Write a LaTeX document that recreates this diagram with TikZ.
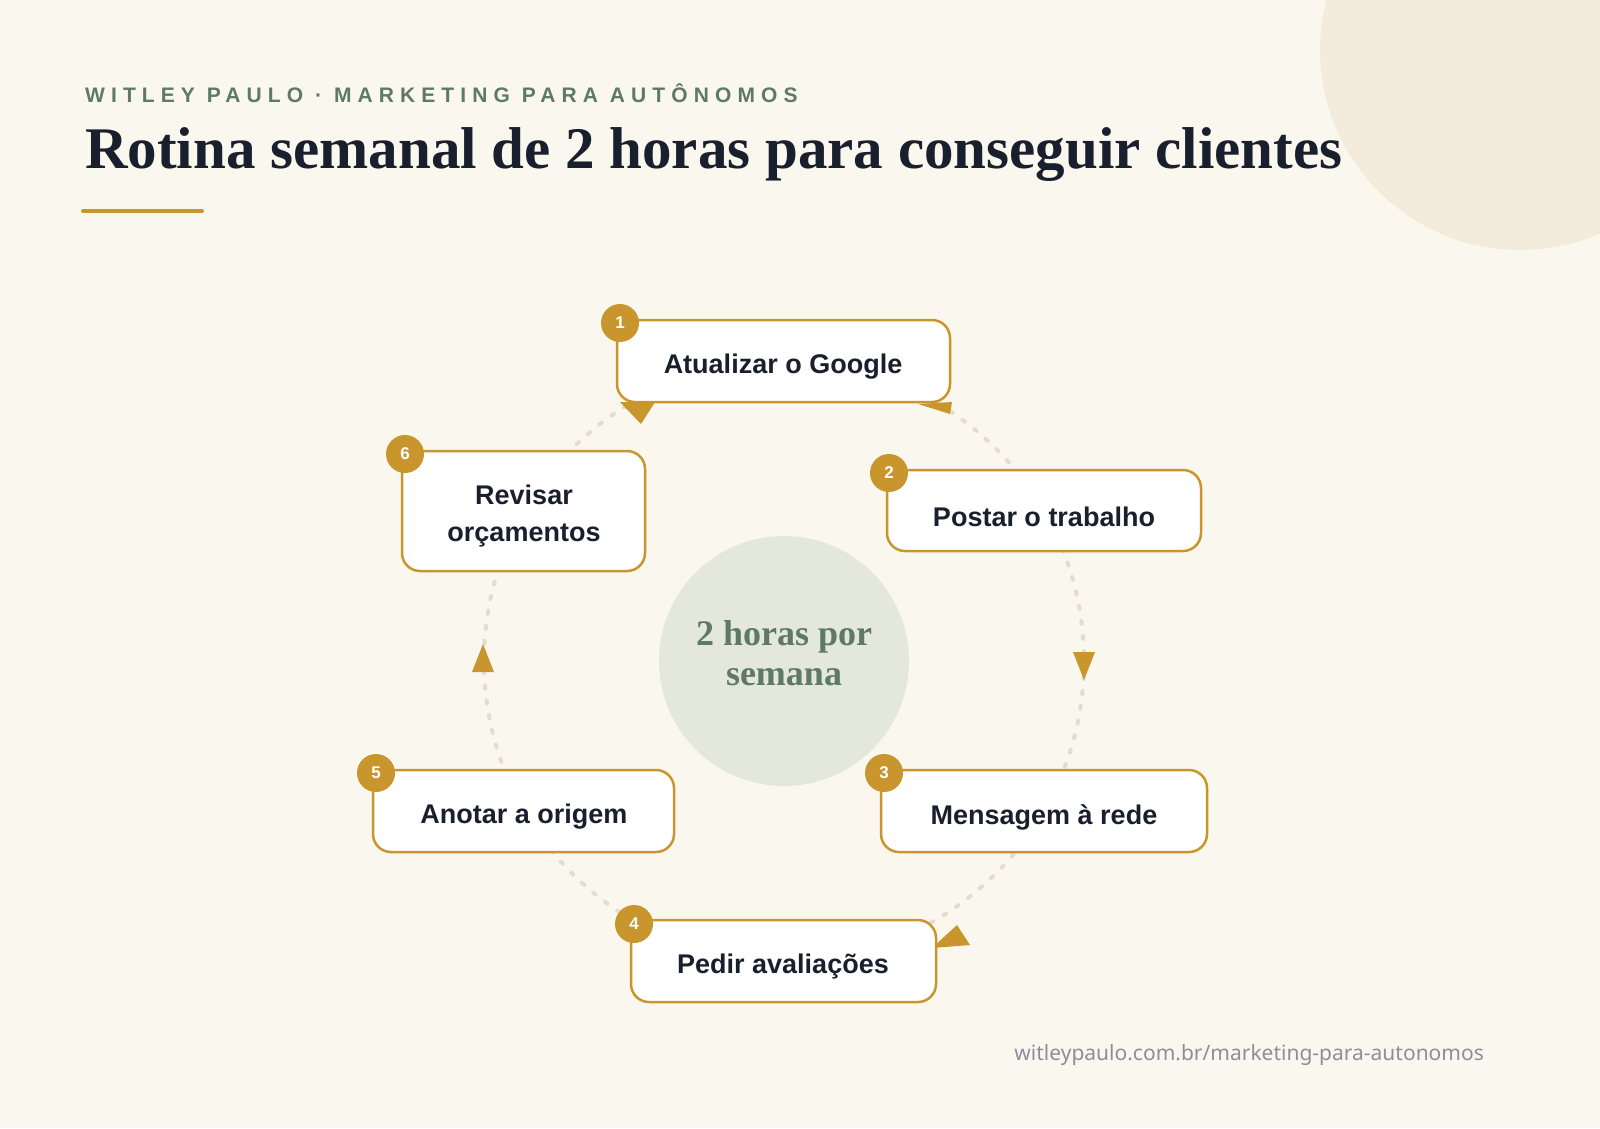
\documentclass[tikz,border=0pt]{standalone}
\usepackage{fontspec}
\setmainfont{Liberation Serif}
\newfontfamily\boxf{Liberation Sans}
\newfontfamily\footf{Noto Sans}
\definecolor{bg}{HTML}{FAF7EE}
\definecolor{blob}{HTML}{F3ECDC}
\definecolor{gold}{HTML}{C9962E}
\definecolor{ink}{HTML}{1A1F2E}
\definecolor{sage}{HTML}{5E7A64}
\definecolor{sagebg}{HTML}{E3E8DA}
\definecolor{dots}{HTML}{E2DDCC}
\definecolor{foot}{HTML}{8A8F99}
\begin{document}
\begin{tikzpicture}[x=1pt,y=-1pt,
  box/.style={draw=gold,line width=2.5pt,fill=white,rounded corners=18pt},
  lbl/.style={font=\boxf\bfseries\fontsize{27}{32}\selectfont,text=ink,align=center},
  badge/.style={circle,fill=gold,minimum size=38pt,inner sep=0pt,text=white,font=\boxf\bfseries\fontsize{17}{20}\selectfont}]
\useasboundingbox (0,0) rectangle (1600,1128);
\fill[bg] (0,0) rectangle (1600,1128);
\begin{scope}
\clip (0,0) rectangle (1600,1128);
\fill[blob] (1520,50) circle (200);
\end{scope}
\node[anchor=base west,inner sep=0,text=sage,font=\boxf\bfseries\fontsize{21}{24}\selectfont] (hdr) at (85,102) {\addfontfeatures{LetterSpace=29}WITLEY PAULO · MARKETING PARA AUTÔNOMOS};
\node[anchor=base west,inner sep=0,text=ink,font=\bfseries\fontsize{59}{64}\selectfont] (title) at (85,168) {Rotina semanal de 2 horas para conseguir clientes};
\draw[gold,line width=4pt,line cap=round] (83,211) -- (202,211);
\draw[dots,line width=4pt,line cap=round,dash pattern=on 3pt off 12pt] (784,661) circle (300);
\node[circle,fill=sagebg,minimum size=250pt,inner sep=0] (hub) at (784,661) {};
\node[text=sage,align=center,font=\bfseries\fontsize{36}{40}\selectfont] (hubt) at (784,653) {2 horas por\\semana};
\fill[gold] (1073,652) -- (1095,652) -- (1084,680) -- cycle;
\fill[gold] (472,672) -- (494,672) -- (483,644) -- cycle;
\fill[gold] (620,402) -- (655,402) -- (641,424) -- cycle;
\fill[gold] (918,404) -- (952,402) -- (950,414) -- cycle;
\fill[gold] (957,925) -- (970,945) -- (932,948) -- cycle;
\draw[box] (617,320) rectangle (950,402); \node[lbl] (b1) at (783,367) {Atualizar o Google};
\draw[box] (887,470) rectangle (1201,551); \node[lbl] (b2) at (1044,517) {Postar o trabalho};
\draw[box] (881,770) rectangle (1207,852); \node[lbl] (b3) at (1044,817) {Mensagem à rede};
\draw[box] (631,920) rectangle (936,1002); \node[lbl] (b4) at (783,967) {Pedir avaliações};
\draw[box] (373,770) rectangle (674,852); \node[lbl] (b5) at (524,817) {Anotar a origem};
\draw[box] (402,451) rectangle (645,571); \node[lbl,font=\boxf\bfseries\fontsize{27}{37}\selectfont] (b6) at (524,516) {Revisar\\orçamentos};
\node[badge] (n1) at (620,323) {1};
\node[badge] (n2) at (889,473) {2};
\node[badge] (n3) at (884,773) {3};
\node[badge] (n4) at (634,924) {4};
\node[badge] (n5) at (376,773) {5};
\node[badge] (n6) at (405,454) {6};
\node[anchor=base east,inner sep=0,text=foot,font=\footf\fontsize{21}{24}\selectfont] (ft) at (1484,1060) {witleypaulo.com.br/marketing-para-autonomos};
\end{tikzpicture}
\end{document}
